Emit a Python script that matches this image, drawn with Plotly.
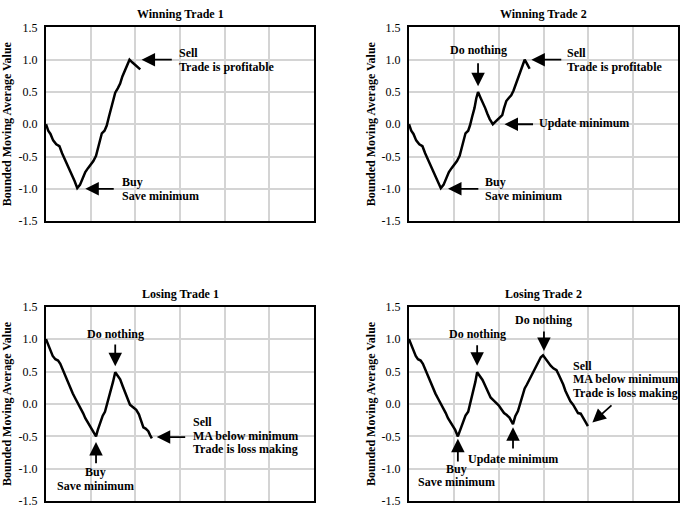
import plotly.graph_objects as go

# ---------------- data ----------------
win1_x = [0, 0.5, 1.0, 1.6, 2.3, 3.0, 3.6, 4.2, 4.8, 5.4, 5.9, 6.4, 7.0, 7.6, 8.2, 8.8, 9.4, 10.0,
          10.6, 11.2, 11.7, 12.1, 12.5, 13.1, 13.6, 14.1, 14.6, 15.1, 15.5, 16.1, 16.6, 17.1, 17.6,
          18.0, 18.4, 18.7, 19.3, 19.9, 20.5, 21.1]
win1_y = [0.0, -0.10, -0.15, -0.25, -0.31, -0.34, -0.45, -0.54, -0.62, -0.72, -0.80, -0.88, -0.99,
          -0.94, -0.84, -0.74, -0.68, -0.63, -0.57, -0.49, -0.36, -0.27, -0.14, -0.10, -0.02, 0.12,
          0.25, 0.42, 0.49, 0.56, 0.63, 0.74, 0.82, 0.89, 0.95, 1.0, 0.96, 0.92, 0.88, 0.85]

win2_x = [0, 0.5, 1.0, 1.6, 2.3, 3.0, 3.6, 4.2, 4.8, 5.4, 5.9, 6.4, 7.1, 7.7, 8.3, 8.9, 9.5, 10.1,
          10.7, 11.3, 11.8, 12.2, 12.6, 13.2, 13.6, 14.1, 14.6, 15.0, 15.4, 15.9, 16.5, 17.0, 17.5,
          18.0, 18.7, 19.3, 19.9, 20.4, 20.8, 21.2, 21.7, 22.3, 22.8, 23.3, 23.8, 24.3, 24.7, 25.2,
          25.8, 26.3, 26.9]
win2_y = [0.0, -0.10, -0.15, -0.25, -0.31, -0.34, -0.45, -0.54, -0.62, -0.72, -0.80, -0.88, -0.99,
          -0.94, -0.84, -0.74, -0.68, -0.63, -0.57, -0.49, -0.36, -0.27, -0.14, -0.10, -0.02, 0.12,
          0.25, 0.40, 0.50, 0.42, 0.34, 0.25, 0.16, 0.08, 0.0, 0.04, 0.08, 0.11, 0.14, 0.25, 0.36,
          0.41, 0.45, 0.52, 0.62, 0.71, 0.81, 0.90, 1.0, 0.94, 0.86]

lose1_x = [0, 0.5, 1.0, 1.5, 2.1, 2.7, 3.2, 3.8, 4.3, 4.8, 5.4, 6.0, 6.6, 7.1, 7.7, 8.3, 8.8, 9.4,
           9.9, 10.5, 11.2, 11.6, 12.1, 12.7, 13.2, 13.8, 14.4, 15.0, 15.5, 16.1, 16.6, 17.2, 17.8,
           18.3, 18.8, 19.5, 20.2, 20.8, 21.3, 21.8, 22.3, 22.9, 23.3, 23.7]
lose1_y = [1.0, 0.92, 0.82, 0.74, 0.69, 0.67, 0.62, 0.52, 0.42, 0.33, 0.24, 0.16, 0.08, 0.02, -0.06,
           -0.14, -0.22, -0.29, -0.34, -0.40, -0.50, -0.40, -0.29, -0.18, -0.12, 0.02, 0.19, 0.34,
           0.49, 0.43, 0.38, 0.27, 0.16, 0.06, -0.01, -0.05, -0.09, -0.16, -0.25, -0.36, -0.38,
           -0.42, -0.48, -0.53]

lose2_x = [0, 0.5, 1.0, 1.5, 2.0, 2.6, 3.1, 3.7, 4.2, 4.7, 5.3, 5.9, 6.5, 7.0, 7.6, 8.2, 8.7, 9.3,
           9.8, 10.3, 10.9, 11.4, 12.0, 12.6, 13.2, 13.7, 14.3, 14.8, 15.2, 15.8, 16.4, 17.0, 17.6,
           18.2, 18.8, 19.4, 20.0, 20.6, 21.2, 21.8, 22.4, 23.2, 23.7, 24.3, 24.8, 25.3, 25.8, 26.3,
           26.8, 27.3, 27.8, 28.3, 28.8, 29.4, 29.9, 30.4, 31.0, 31.6, 32.2, 32.9, 33.4, 33.9, 34.4,
           34.9, 35.4, 36.0, 36.6, 37.1, 37.7, 38.3, 38.8, 39.3, 39.9]
lose2_y = [1.0, 0.92, 0.82, 0.74, 0.69, 0.67, 0.62, 0.52, 0.42, 0.33, 0.24, 0.16, 0.08, 0.02, -0.06,
           -0.14, -0.22, -0.29, -0.34, -0.40, -0.50, -0.40, -0.29, -0.18, -0.12, 0.02, 0.19, 0.34,
           0.49, 0.43, 0.37, 0.28, 0.18, 0.10, 0.06, 0.02, -0.02, -0.08, -0.14, -0.17, -0.21, -0.31,
           -0.19, -0.11, 0.02, 0.12, 0.24, 0.30, 0.37, 0.44, 0.50, 0.57, 0.64, 0.72, 0.75, 0.70,
           0.63, 0.59, 0.55, 0.52, 0.45, 0.38, 0.30, 0.20, 0.12, 0.04, -0.01, -0.08, -0.14, -0.15,
           -0.20, -0.27, -0.34]

titles = ["Winning Trade 1", "Winning Trade 2", "Losing Trade 1", "Losing Trade 2"]
y_ticks = [-1.5, -1.0, -0.5, 0.0, 0.5, 1.0, 1.5]
y_tick_labels = ["-1.5", "-1.0", "-0.5", "0.0", "0.5", "1.0", "1.5"]
x_grid = [0, 10, 20, 30, 40, 50, 60]
y_title = "Bounded Moving Average Value"

# ---------------- layout ----------------
W, H = 687, 518
FONT = "Liberation Serif"
panels = [
    # (xdata, ydata, left px, right px, top px, bottom px, title y px, ytitle x px)
    (win1_x, win1_y, 46, 314, 21, 220, 7, 7),
    (win2_x, win2_y, 409, 678, 21, 220, 7, 371),
    (lose1_x, lose1_y, 46, 314, 308, 508, 295, 7),
    (lose2_x, lose2_y, 409, 678, 308, 508, 295, 371),
]

fig = go.Figure()
layout = dict(width=W, height=H, margin=dict(l=0, r=0, t=0, b=0),
              paper_bgcolor="white", plot_bgcolor="white", showlegend=False,
              font=dict(family=FONT, size=12, color="black"))

for i, (xs, ys, l, r, t, b, ty, yx) in enumerate(panels):
    n = "" if i == 0 else str(i + 1)
    fig.add_trace(go.Scatter(x=xs, y=ys, mode="lines", xaxis="x" + n, yaxis="y" + n,
                             line=dict(color="black", width=2.5), hoverinfo="skip"))
    layout["xaxis" + n] = dict(domain=[l / W, r / W], range=[0, 60], anchor="y" + n,
                               tickvals=x_grid, showticklabels=False, showgrid=True,
                               gridcolor="#d4d4d4", gridwidth=1.6, zeroline=False,
                               showline=True, mirror=True, linecolor="black", linewidth=2,
                               ticks="", fixedrange=True)
    layout["yaxis" + n] = dict(domain=[1 - b / H, 1 - t / H], range=[-1.5, 1.5], anchor="x" + n,
                               tickvals=y_ticks, ticktext=y_tick_labels, showgrid=True,
                               gridcolor="#d4d4d4", gridwidth=1.6, zeroline=False,
                               showline=True, mirror=True, linecolor="black", linewidth=2,
                               ticks="", ticklabelstandoff=4,
                               tickfont=dict(family=FONT, size=12, color="black"),
                               fixedrange=True)
    fig.add_annotation(text="<b>" + titles[i] + "</b>", xref="paper", yref="paper",
                       x=(l + r) / 2 / W, y=1 - ty / H, showarrow=False,
                       xanchor="center", yanchor="middle", font=dict(size=12, family=FONT))
    fig.add_annotation(text="<b>" + y_title + "</b>", xref="paper", yref="paper",
                       x=yx / W, y=1 - (t + b) / 2 / H, showarrow=False, textangle=-90,
                       xanchor="center", yanchor="middle", font=dict(size=12, family=FONT))

fig.update_layout(**layout)


def axn(p):
    return "" if p == 0 else str(p + 1)


def arrow(p, hx, hy, tx, ty):
    n = axn(p)
    fig.add_annotation(x=hx, y=hy, ax=tx, ay=ty, xref="x" + n, yref="y" + n,
                       axref="x" + n, ayref="y" + n, text="", showarrow=True,
                       arrowhead=2, arrowsize=1.5, arrowwidth=1.8, arrowcolor="black")


def label(p, x, y, lines, anchor="left"):
    n = axn(p)
    for k, s in enumerate(lines):
        fig.add_annotation(x=x, y=y, xref="x" + n, yref="y" + n, text="<b>" + s + "</b>",
                           showarrow=False, xanchor=anchor, yanchor="middle",
                           yshift=-13.5 * k, font=dict(size=12, family=FONT))


# Winning Trade 1
arrow(0, 8.8, -1.0, 15.5, -1.0)
label(0, 16.6, -0.9, ["Buy", "Save minimum"])
arrow(0, 21.4, 1.0, 28.5, 1.0)
label(0, 29.3, 1.1, ["Sell", "Trade is profitable"])

# Winning Trade 2
arrow(1, 8.7, -1.0, 15.8, -1.0)
label(1, 16.5, -0.9, ["Buy", "Save minimum"])
arrow(1, 15.4, 0.59, 15.4, 0.97)
label(1, 15.4, 1.15, ["Do nothing"], anchor="center")
arrow(1, 21.3, 0.0, 28.0, 0.0)
label(1, 28.6, 0.02, ["Update minimum"])
arrow(1, 27.3, 1.0, 34.3, 1.0)
label(1, 34.9, 1.1, ["Sell", "Trade is profitable"])

# Losing Trade 1
arrow(2, 15.5, 0.58, 15.5, 0.94)
label(2, 15.5, 1.08, ["Do nothing"], anchor="center")
arrow(2, 11.2, -0.585, 11.2, -0.935)
label(2, 11.0, -1.05, ["Buy", "Save minimum"], anchor="center")
arrow(2, 24.8, -0.51, 31.5, -0.51)
label(2, 32.5, -0.285, ["Sell", "MA below minimum", "Trade is loss making"])

# Losing Trade 2
arrow(3, 15.2, 0.59, 15.2, 0.93)
label(3, 15.2, 1.08, ["Do nothing"], anchor="center")
arrow(3, 30.1, 0.815, 30.1, 1.14)
label(3, 30.1, 1.29, ["Do nothing"], anchor="center")
arrow(3, 10.9, -0.535, 10.9, -0.91)
label(3, 10.7, -1.0, ["Buy", "Save minimum"], anchor="center")
arrow(3, 23.2, -0.36, 23.2, -0.71)
label(3, 23.2, -0.845, ["Update minimum"], anchor="center")
arrow(3, 40.9, -0.285, 45.5, 0.0)
label(3, 36.1, 0.59, ["Sell", "MA below minimum", "Trade is loss making"])

fig.write_html("out.html")
